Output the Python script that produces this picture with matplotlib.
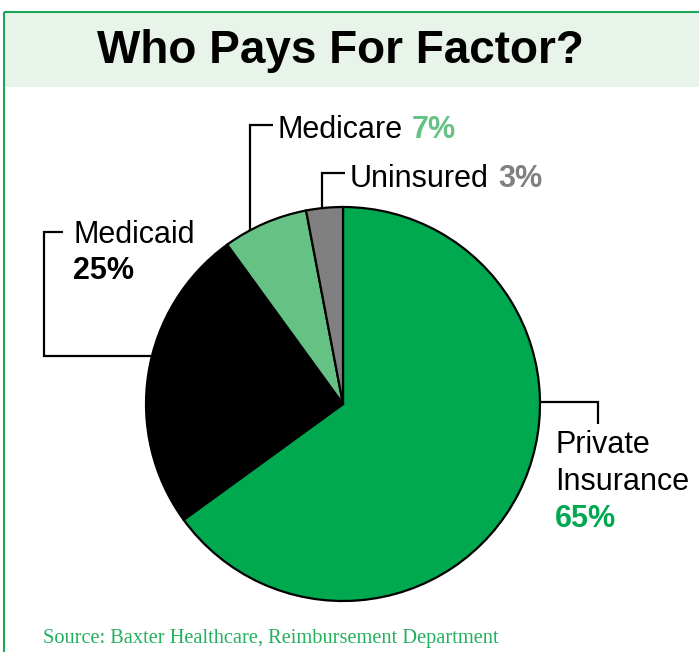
import numpy as np
import matplotlib
matplotlib.use("Agg")
import matplotlib.pyplot as plt
from matplotlib.patches import Rectangle

# data
labels = ["Private Insurance", "Medicaid", "Medicare", "Uninsured"]
shares = [65, 25, 7, 3]
colors = ["#00A84F", "#000000", "#66C185", "#808080"]
title = "Who Pays For Factor?"
source = "Source: Baxter Healthcare, Reimbursement Department"

W, H = 699, 652
fig = plt.figure(figsize=(W / 100, H / 100), dpi=100)
fig.patch.set_facecolor("white")

# overlay in pixel coordinates
bg = fig.add_axes([0, 0, 1, 1], zorder=0)
bg.set_xlim(0, W)
bg.set_ylim(H, 0)
bg.axis("off")

green_line = "#1EA65A"
bg.add_patch(Rectangle((4, 12), W - 4, 75, facecolor="#E8F4EA", edgecolor="none"))
bg.plot([4, W], [12, 12], color=green_line, lw=1.5, solid_capstyle="butt")
bg.plot([4, 4], [12, H], color=green_line, lw=1.5, solid_capstyle="butt")

bg.text(340, 63, title, ha="center", va="baseline", fontsize=33,
        fontweight="bold", family="Liberation Sans", color="black")
bg.text(43, 643, source, ha="left", va="baseline", fontsize=14.7,
        family="Liberation Serif", color="#21B15C")

# pie
cx, cy, r = 343, 404, 197
pax = fig.add_axes([(cx - r) / W, 1 - (cy + r) / H, 2 * r / W, 2 * r / H], zorder=1)
wedges, _ = pax.pie(shares, colors=colors, startangle=90, counterclock=False,
                    wedgeprops=dict(edgecolor="black", linewidth=1.6))
for w in wedges:
    w.set_clip_on(False)
pax.set_xlim(-1, 1)
pax.set_ylim(-1, 1)
pax.set_aspect("equal")
pax.axis("off")


def edge(angle):
    a = np.deg2rad(angle)
    return cx + r * np.cos(a), cy - r * np.sin(a)


lk = dict(color="black", lw=1.6, solid_capstyle="butt", solid_joinstyle="miter")

# Medicaid leader
x0, y0 = edge(166)
bg.plot([x0, 44, 44, 63], [y0, y0, 232, 232], **lk)
# Medicare leader
x0, y0 = edge(118)
bg.plot([250, 250, 273], [y0, 125, 125], **lk)
# Uninsured leader
x0, y0 = edge(96)
bg.plot([322, 322, 345], [y0, 173, 173], **lk)
# Private leader
x0, y0 = edge(0.6)
bg.plot([x0, 598, 598], [402, 402, 424], **lk)

fs = 22
lab = dict(va="baseline", ha="left", fontsize=fs, family="Liberation Sans")
pct = dict(va="baseline", ha="left", fontsize=fs, family="Liberation Sans", fontweight="bold")

renderer = fig.canvas.get_renderer()


def inline(x, y, name, value, color):
    t = bg.text(x, y, name, color="black", **lab)
    bb = t.get_window_extent(renderer)
    xe = bg.transData.inverted().transform((bb.x1, bb.y0))[0]
    bg.text(xe + 9, y, f"{value}%", color=color, **pct)


bg.text(73, 243, labels[1], color="black", **lab)
bg.text(73, 279, f"{shares[1]}%", color=colors[1], **pct)

inline(278, 138, labels[2], shares[2], colors[2])
inline(350, 187, labels[3], shares[3], colors[3])

bg.text(555, 453, "Private", color="black", **lab)
bg.text(555, 490, "Insurance", color="black", **lab)
bg.text(555, 527, f"{shares[0]}%", color=colors[0], **pct)

fig.savefig("out.png", dpi=100)
